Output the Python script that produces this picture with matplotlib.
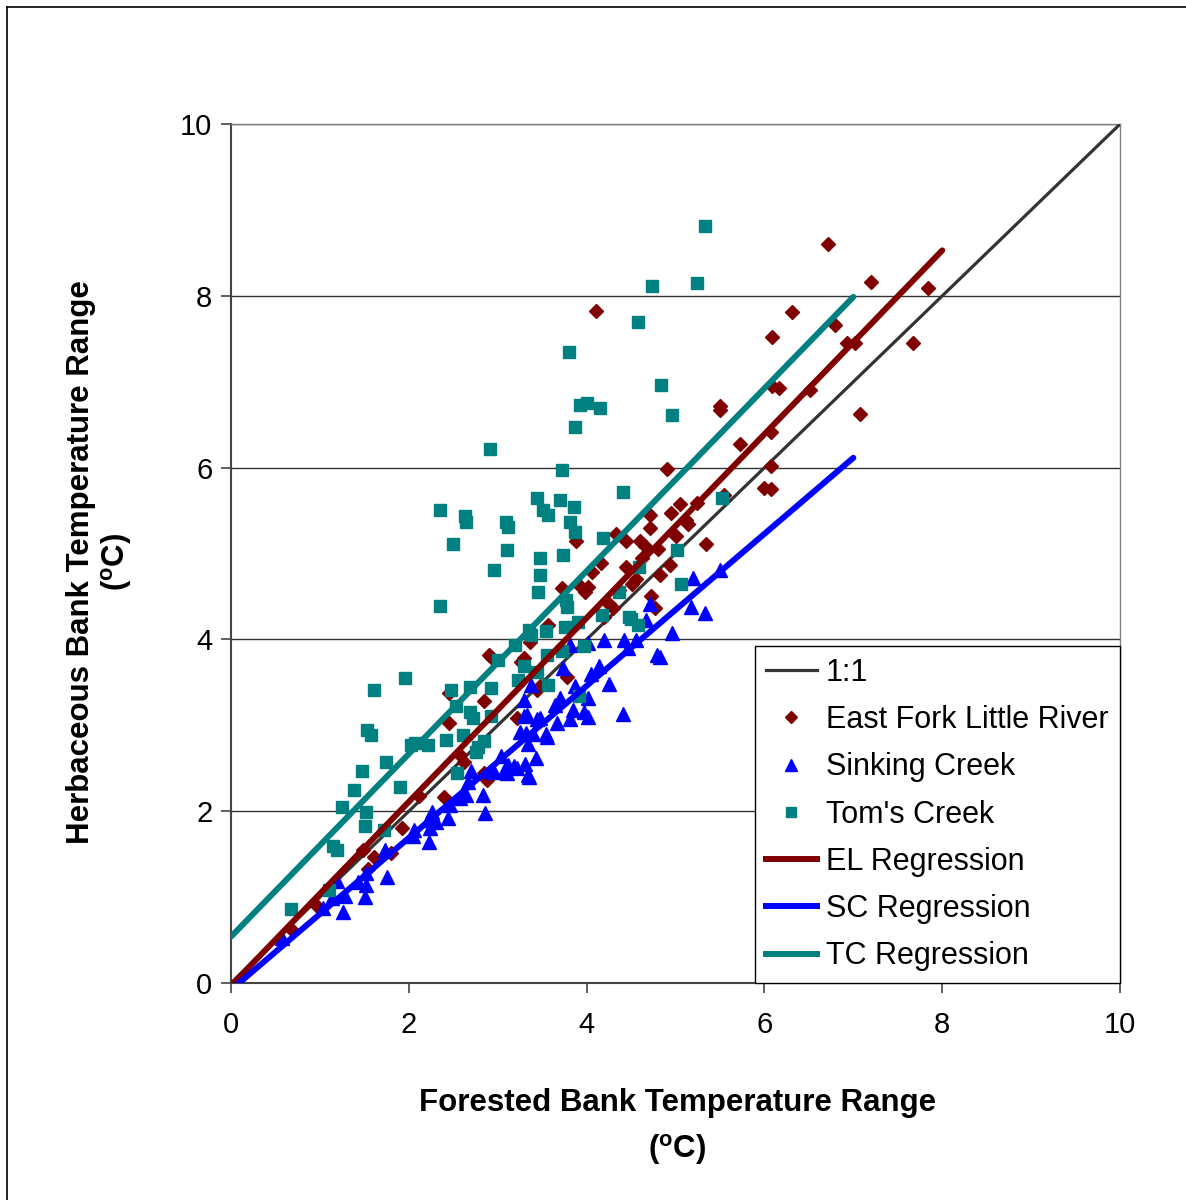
import matplotlib
matplotlib.use("Agg")
import matplotlib.pyplot as plt
from matplotlib.lines import Line2D
import numpy as np

plt.rcParams['font.family'] = ['Liberation Sans', 'DejaVu Sans']
plt.rcParams['mathtext.fontset'] = 'custom'
plt.rcParams['mathtext.rm'] = 'Liberation Sans'
plt.rcParams['mathtext.bf'] = 'Liberation Sans:bold'

# East Fork Little River (forested range, herbaceous range)
el_x = [6.72, 7.20, 7.84, 6.31, 4.11, 6.79, 6.09, 6.93, 7.02, 7.67, 6.09, 6.16, 6.51, 7.08,
        5.50, 5.50, 5.73, 6.07, 4.90, 6.07, 6.00, 6.07, 5.54, 5.05, 5.24, 4.71, 4.95, 5.12,
        5.14, 5.34, 4.71, 4.33, 4.44, 4.60, 4.66, 3.88, 4.16, 4.44, 4.06, 4.94, 4.83, 4.51,
        4.36, 3.72, 3.93, 4.02, 4.72, 4.25, 4.30, 4.20, 4.77, 3.57, 3.36, 3.26, 3.30, 2.92,
        2.90, 3.78, 3.44, 3.47, 2.45, 2.85, 2.45, 3.22, 2.62, 2.58, 2.40, 2.85, 2.88, 1.92,
        1.80, 1.61, 1.54, 1.48, 0.67, 0.97, 2.11, 4.55, 4.62, 5.00, 3.98, 4.80]
el_y = [8.60, 8.16, 8.09, 7.81, 7.82, 7.66, 7.52, 7.45, 7.45, 7.45, 6.95, 6.93, 6.90, 6.62,
        6.72, 6.67, 6.27, 6.41, 5.98, 6.02, 5.76, 5.75, 5.68, 5.58, 5.59, 5.45, 5.47, 5.39,
        5.34, 5.11, 5.30, 5.23, 5.15, 5.15, 5.09, 5.15, 4.89, 4.84, 4.78, 4.87, 4.75, 4.64,
        4.58, 4.60, 4.62, 4.61, 4.51, 4.41, 4.37, 4.26, 4.37, 4.17, 3.97, 3.74, 3.78, 3.80,
        3.82, 3.56, 3.41, 3.46, 3.38, 3.28, 3.03, 3.08, 2.57, 2.65, 2.17, 2.44, 2.36, 1.81,
        1.51, 1.47, 1.33, 1.55, 0.63, 0.90, 2.18, 4.70, 4.95, 5.20, 4.55, 5.05]

# Sinking Creek
sc_x = [5.50, 5.20, 5.17, 5.33, 4.71, 4.96, 4.79, 4.83, 4.67, 4.56, 4.47, 4.42, 4.20, 4.14,
        4.41, 4.05, 3.87, 4.25, 3.97, 3.85, 3.70, 3.64, 4.02, 3.73, 3.81, 4.02, 3.37, 3.33,
        3.48, 3.54, 3.34, 3.40, 3.31, 3.22, 3.43, 3.34, 3.07, 3.12, 2.92, 3.04, 2.70, 2.67,
        2.64, 2.83, 2.86, 2.58, 2.46, 2.44, 2.26, 2.22, 2.24, 2.31, 2.05, 2.23, 1.73, 1.75,
        1.52, 1.52, 1.51, 1.43, 1.28, 1.26, 1.03, 1.14, 1.19, 0.57, 2.06, 3.25, 3.30, 3.67,
        3.55, 3.44, 3.30, 3.32, 3.18, 3.10, 2.96, 3.35, 4.02, 3.81]
sc_y = [4.81, 4.71, 4.38, 4.31, 4.41, 4.07, 3.82, 3.80, 4.23, 3.99, 3.90, 3.99, 3.99, 3.69,
        3.13, 3.60, 3.46, 3.48, 3.15, 3.18, 3.32, 3.24, 3.32, 3.67, 3.93, 3.96, 3.47, 3.12,
        3.08, 2.90, 2.78, 2.90, 2.55, 2.50, 2.62, 2.42, 2.47, 2.54, 2.47, 2.64, 2.47, 2.34,
        2.19, 2.19, 1.98, 2.15, 2.07, 1.92, 1.99, 1.90, 1.80, 1.87, 1.71, 1.64, 1.55, 1.23,
        1.28, 1.14, 1.00, 1.18, 1.01, 0.83, 0.87, 0.99, 1.19, 0.52, 1.78, 2.92, 3.29, 3.03,
        2.86, 3.07, 3.11, 2.91, 2.53, 2.44, 2.46, 2.40, 3.10, 3.07]

# Tom's Creek
tc_x = [5.33, 5.24, 4.74, 4.58, 3.80, 4.84, 3.93, 4.00, 4.15, 3.87, 4.96, 2.91, 3.72, 4.41,
        2.35, 3.44, 3.70, 3.86, 3.51, 3.57, 2.63, 2.64, 3.09, 3.12, 3.81, 3.87, 2.50, 3.10,
        4.18, 2.96, 3.73, 3.48, 3.47, 4.59, 5.02, 5.52, 5.06, 2.35, 3.45, 3.77, 3.78, 4.36,
        4.50, 4.58, 3.90, 3.35, 3.54, 3.76, 3.19, 3.97, 3.00, 3.55, 3.72, 3.44, 3.30, 3.23,
        3.57, 1.96, 1.61, 2.47, 2.69, 2.92, 2.53, 2.69, 2.92, 2.72, 2.61, 2.42, 2.07, 2.02,
        2.22, 1.53, 1.57, 2.78, 2.85, 2.76, 2.54, 1.47, 1.74, 1.38, 1.90, 1.25, 1.52, 1.51,
        1.72, 1.15, 1.19, 1.10, 0.67, 4.17, 4.48, 3.37, 3.91]
tc_y = [8.81, 8.15, 8.12, 7.69, 7.35, 6.96, 6.73, 6.75, 6.69, 6.47, 6.61, 6.22, 5.97, 5.72,
        5.51, 5.65, 5.62, 5.54, 5.51, 5.45, 5.44, 5.37, 5.37, 5.31, 5.37, 5.25, 5.11, 5.04,
        5.18, 4.81, 4.98, 4.95, 4.75, 4.84, 5.04, 5.65, 4.64, 4.39, 4.55, 4.46, 4.38, 4.55,
        4.24, 4.17, 4.20, 4.11, 4.10, 4.14, 3.93, 3.92, 3.76, 3.82, 3.86, 3.62, 3.69, 3.53,
        3.47, 3.55, 3.41, 3.41, 3.45, 3.43, 3.22, 3.15, 3.11, 3.08, 2.89, 2.83, 2.79, 2.77,
        2.77, 2.95, 2.89, 2.75, 2.82, 2.69, 2.44, 2.47, 2.57, 2.25, 2.28, 2.05, 1.99, 1.83,
        1.78, 1.59, 1.55, 1.08, 0.86, 4.28, 4.26, 4.05, 3.34]

# regression fits: (slope, intercept, x end)
el_fit = (1.07, -0.03, 8.0)
sc_fit = (0.885, -0.08, 7.0)
tc_fit = (1.064, 0.54, 7.0)

fig = plt.figure(figsize=(11.86, 12), dpi=100)
ax = fig.add_axes([0.1948, 0.1808, 0.7496, 0.7158])

ax.plot([0, 10], [0, 10], color='#333333', lw=2.3, zorder=3)
ax.plot(el_x, el_y, 'D', color='#800000', ms=7.3, mec='#800000', ls='none', zorder=4)
ax.plot(sc_x, sc_y, '^', color='#0000FF', ms=9.5, mec='#0000FF', ls='none', zorder=4)
ax.plot(tc_x, tc_y, 's', color='#008080', ms=8.5, mec='#008080', ls='none', zorder=4)

for (m, b, xe), c in zip([el_fit, sc_fit, tc_fit], ['#800000', '#0000FF', '#008080']):
    xs = np.array([0, xe])
    ax.plot(xs, m * xs + b, color=c, lw=4.3, solid_capstyle='round', zorder=5)

ax.set_xlim(0, 10)
ax.set_ylim(0, 10)
ax.set_xticks([0, 2, 4, 6, 8, 10])
ax.set_yticks([0, 2, 4, 6, 8, 10])
ax.yaxis.grid(True, color='#333333', lw=1.0)
ax.set_axisbelow(True)
for s in ['top', 'right']:
    ax.spines[s].set_color('#808080')
    ax.spines[s].set_linewidth(1.0)
for s in ['left', 'bottom']:
    ax.spines[s].set_color('#444444')
    ax.spines[s].set_linewidth(1.5)
ax.tick_params(axis='both', labelsize=21, length=7, width=1.2, color='#444444')
ax.tick_params(axis='x', pad=13)
ax.tick_params(axis='y', pad=6.5)

handles = [
    Line2D([], [], color='#333333', lw=2.3),
    Line2D([], [], marker='D', color='#800000', ls='none', ms=6),
    Line2D([], [], marker='^', color='#0000FF', ls='none', ms=8),
    Line2D([], [], marker='s', color='#008080', ls='none', ms=7),
    Line2D([], [], color='#800000', lw=4.3),
    Line2D([], [], color='#0000FF', lw=4.3),
    Line2D([], [], color='#008080', lw=4.3),
]
labels = ['1:1', 'East Fork Little River', 'Sinking Creek', "Tom's Creek",
          'EL Regression', 'SC Regression', 'TC Regression']
leg = ax.legend(handles, labels, loc='lower right', borderaxespad=0, fontsize=22,
                fancybox=False, framealpha=1, edgecolor='black', handlelength=1.65,
                handletextpad=0.3, labelspacing=0.565, borderpad=0.38)
leg.get_frame().set_linewidth(1.0)

fig.text(0.571, 0.081, 'Forested Bank Temperature Range', ha='center', va='center',
         fontsize=22.5, fontweight='bold')
fig.text(0.571, 0.0417, r'($^{\mathbf{o}}$C)', ha='center', va='center',
         fontsize=22.5, fontweight='bold')
fig.text(0.0685, 0.532, 'Herbaceous Bank Temperature Range', ha='center', va='center',
         rotation=90, fontsize=22.5, fontweight='bold')
fig.text(0.0985, 0.532, r'($^{\mathbf{o}}$C)', ha='center', va='center',
         rotation=90, fontsize=22.5, fontweight='bold')

# outer frame (left and top edges visible)
fig.add_artist(Line2D([0.006, 0.006], [0, 0.994], color='black', lw=1.2,
                      transform=fig.transFigure))
fig.add_artist(Line2D([0.006, 1], [0.994, 0.994], color='black', lw=1.2,
                      transform=fig.transFigure))

fig.savefig('out.png', dpi=100)
